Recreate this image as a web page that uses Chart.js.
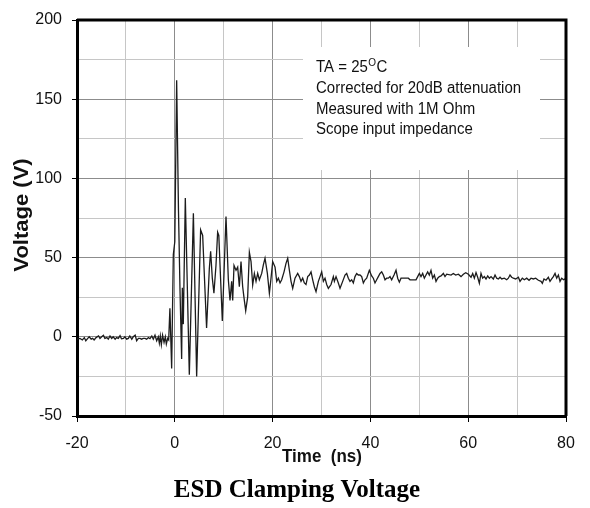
<!DOCTYPE html>
<html>
<head>
<meta charset="utf-8">
<title>ESD Clamping Voltage</title>
<script src="https://cdn.jsdelivr.net/npm/chart.js@4.4.1/dist/chart.umd.min.js"></script>
<style>
  html, body { margin: 0; padding: 0; background: #fff; }
  canvas { display: block; }
</style>
</head>
<body>
<canvas id="esd" width="590" height="508"></canvas>
<script>
const preTriggerTime = [
  -20, -19.4, -18.9, -18.5, -18.2, -17.8, -17.5, -17.1,
  -16.8, -16.5, -16.1, -15.6, -15.3, -14.95, -14.6, -14.3,
  -13.9, -13.6, -13.25, -12.9, -12.6, -12.2, -11.9, -11.55,
  -11.2, -10.9, -10.5, -10.2, -9.85, -9.5, -9.2, -8.8,
  -8.5, -8.1, -7.8, -7.45, -7.1, -6.8, -6.45, -6.1,
  -5.75, -5.4, -5.07, -4.7, -4.4, -4.05, -3.7, -3.37,
  -3.16, -2.96, -2.75, -2.5, -2.2, -1.94, -1.73, -1.46,
  -1.25,
];
const preTriggerVolts = [
  -1.5, -1, -2, -0.5, -2.5, -1, 0, -1.5,
  -1, -2, -0.5, 0.5, -1, 0, 1, -1,
  -0.5, -1.5, 0.5, -1, 0, -1.5, -0.5, -1,
  0.7, -1.3, -1, 0, -1.5, -1, 0.5, -1.5,
  0, 1, -2.5, -1, -1, -1.5, -1, -1,
  -1.5, -0.5, -1.2, 0.5, -1.5, 1, -2.5, 0,
  -4, 0.5, -5, 1, -3.5, 0, -4.5, -1,
  -2,
];

const ringTime = [
  -1.0, -0.64, -0.3, 0.0, 0.38, 0.75, 1.06, 1.4,
  1.54, 1.74, 2.15, 2.97, 3.8, 4.47, 5.28, 5.7,
  6.5, 7.06, 7.33, 7.67, 8.0, 8.42, 8.76, 9.0,
  9.72, 10.47, 10.95, 11.29, 11.63, 11.84, 12.11, 12.52,
  12.86, 13.2, 13.54, 13.88, 14.22, 14.5, 14.9, 15.25,
  15.59, 15.93, 16.27, 16.61, 16.95, 17.29, 17.77, 18.11,
  18.45, 18.93, 19.34, 19.68, 20.02, 20.5, 20.84, 21.18,
  21.52, 21.86, 22.34, 22.74, 23.09, 23.43, 23.77, 24.11,
  24.58, 25.13, 25.47, 25.81, 26.15, 26.49, 26.83, 27.18,
  27.52, 27.86, 28.2, 28.54, 28.88, 29.36, 29.7, 30.04,
  30.38, 30.72, 31.06, 31.4, 31.95, 32.42,
];
const ringVolts = [
  18, -20, 52, 60, 162, 80, 30, -14,
  31, 8, 87.6, -24, 78, -25, 67.5, 64,
  5.5, 43, 54, 37, 27.5, 45, 66, 64,
  10, 76, 36, 23, 35, 23, 45, 42,
  44, 31.6, 47.5, 31.6, 23, 16.5, 25, 53.4,
  47.5, 32.7, 40, 35, 40, 36, 40, 45.4,
  49.6, 40, 27.5, 37, 47.5, 44, 35, 37,
  34, 36, 41, 46.4, 49.6, 42, 35, 30.6,
  37, 40, 38, 35, 37, 34, 33, 38,
  39, 41, 36, 31.6, 28.5, 35, 38, 41,
  35, 37, 33, 30.6, 33, 38,
];

const settleTime = [
  32.63, 32.97, 33.44, 33.79, 34.33, 34.81, 35.15, 35.49,
  35.83, 36.17, 36.51, 36.85, 37.19, 37.53, 37.87, 38.22,
  38.56, 38.9, 39.24, 39.78, 40.26, 40.6, 40.94, 41.28,
  41.62, 41.97, 42.31, 42.65, 42.99, 43.33, 43.67, 44.01,
  44.35, 44.83, 45.24, 45.58, 45.92, 46.26, 47.76, 48.1,
  49.33, 49.67, 50.01, 50.35, 50.69, 51.03, 51.37, 51.71,
  52.05, 52.39, 52.74, 53.08, 53.42, 53.76, 54.1, 54.44,
  54.92, 55.26, 55.6, 56.49, 56.96, 57.44, 57.99, 58.53,
  59.01, 59.49, 60.03, 60.58, 60.92, 61.26, 61.6, 61.94,
  62.28, 62.62, 62.96, 63.3, 63.64, 63.99, 64.33, 64.67,
  65.14, 65.49, 65.83, 66.17, 66.51, 66.85, 67.39, 67.87,
  68.21, 68.55, 68.89, 69.23, 69.71, 70.26, 70.6, 71.07,
  71.48, 71.96, 72.44, 72.85, 73.32, 73.8, 74.35, 74.89,
  75.16, 75.5, 75.91, 76.39, 76.73, 77.07, 77.41, 77.76,
  78.1, 78.44, 78.78, 79.12, 79.5, 80,
];
const settleVolts = [
  35, 38, 34, 30.6, 35, 39, 40, 37,
  35, 36, 34, 38, 40, 39, 39, 38,
  34, 36, 37, 42, 38.4, 37, 34, 36,
  38, 40, 41, 39, 36, 37, 37, 38,
  36, 39, 42, 37, 34.5, 37, 37, 36,
  36, 38, 40, 38, 40, 37, 39, 41,
  39, 42, 37, 39, 35, 37, 38, 38.4,
  40, 38, 39.5, 39, 40, 39, 39.5, 38,
  39.5, 40.5, 39.5, 37.6, 40, 37, 40.5, 37.6,
  33.8, 40, 37, 38, 36.5, 38.4, 37, 38,
  36.5, 39, 37, 36.5, 37.6, 36.5, 37, 36,
  37, 39, 37.6, 37, 36.5, 37.6, 35, 37,
  36, 37, 35.7, 37, 36.5, 37, 35.7, 35,
  33.8, 36.5, 35.7, 37.6, 35, 36.5, 38, 40,
  37, 39, 35, 37, 36, 37,
];

const noteLines = ['Corrected for 20dB attenuation', 'Measured with 1M Ohm', 'Scope input impedance'];

const timeNs = [...preTriggerTime, ...ringTime, ...settleTime];
const voltage = [...preTriggerVolts, ...ringVolts, ...settleVolts];

const SANS = "'Liberation Sans', Arial, sans-serif";
const SERIF = "'Liberation Serif', 'Times New Roman', serif";

// white note box, axis titles, frame
const decorations = {
  id: 'decorations',
  beforeDatasetsDraw(chart) {
    const { ctx } = chart;
    ctx.save();
    ctx.fillStyle = '#fff';
    ctx.fillRect(303, 47, 237, 123);
    ctx.fillStyle = '#111';
    ctx.textAlign = 'left';
    ctx.textBaseline = 'alphabetic';
    ctx.translate(316, 0);
    ctx.scale(1, 1.15);
    ctx.font = `15px ${SANS}`;
    ctx.fillText('TA = 25', 0, 71.5 / 1.15);
    const w = ctx.measureText('TA = 25').width;
    ctx.font = `10px ${SANS}`;
    ctx.fillText('O', w + 0.5, 66 / 1.15);
    const wo = ctx.measureText('O').width;
    ctx.font = `15px ${SANS}`;
    ctx.fillText('C', w + wo + 1, 71.5 / 1.15);
    const baselines = [93.3, 114.3, 134.3];
    noteLines.forEach((line, i) => {
      ctx.fillText(line, 0, baselines[i] / 1.15);
    });
    ctx.restore();
  },
  afterDraw(chart) {
    const { ctx, chartArea } = chart;
    ctx.save();
    ctx.strokeStyle = '#000';
    ctx.lineWidth = 3;
    ctx.beginPath();
    ctx.moveTo(chartArea.left, chartArea.top);
    ctx.lineTo(chartArea.right, chartArea.top);
    ctx.lineTo(chartArea.right, chartArea.bottom);
    ctx.stroke();

    ctx.fillStyle = '#111';
    // y title
    ctx.save();
    ctx.translate(28, 215);
    ctx.rotate(-Math.PI / 2);
    ctx.scale(1.1, 1);
    ctx.font = `bold 20px ${SANS}`;
    ctx.textAlign = 'center';
    ctx.textBaseline = 'alphabetic';
    ctx.fillText('Voltage (V)', 0, 0);
    ctx.restore();

    // x title, sits over the tick labels like the original
    ctx.save();
    ctx.translate(322, 462);
    ctx.scale(1, 1.1);
    ctx.font = `bold 17px ${SANS}`;
    ctx.textAlign = 'center';
    ctx.fillText('Time  (ns)', 0, 0);
    ctx.restore();

    ctx.font = `bold 25px ${SERIF}`;
    ctx.textAlign = 'center';
    ctx.fillStyle = '#000';
    ctx.fillText('ESD Clamping Voltage', 297, 497);
    ctx.restore();
  },
};

const isMajor = (v, step) => Math.abs(v % step) < 1e-9;

new Chart(document.getElementById('esd'), {
  type: 'line',
  data: {
    datasets: [{
      label: 'Voltage',
      data: timeNs.map((t, i) => ({ x: t, y: voltage[i] })),
      borderColor: '#1c1c1c',
      borderWidth: 1.3,
      pointRadius: 0,
      tension: 0,
      fill: false,
    }],
  },
  options: {
    responsive: false,
    animation: false,
    devicePixelRatio: 1,
    layout: { padding: { left: 0, right: 24, top: 20, bottom: 0 } },
    plugins: {
      legend: { display: false },
      tooltip: { enabled: false },
      title: { display: false },
    },
    scales: {
      x: {
        type: 'linear',
        min: -20,
        max: 80,
        ticks: {
          stepSize: 10,
          autoSkip: false,
          maxRotation: 0,
          padding: 12,
          color: '#111',
          font: { family: SANS, size: 16 },
          callback: (v) => (isMajor(v, 20) ? v : ''),
        },
        grid: {
          color: (c) => (isMajor(c.tick.value, 20) ? '#8c8c8c' : '#c6c6c6'),
          tickColor: (c) => (isMajor(c.tick.value, 20) ? '#000' : 'rgba(0,0,0,0)'),
          tickLength: 6,
          lineWidth: 1,
        },
        border: { color: '#000', width: 3 },
        afterFit: (s) => { s.height = 92; },
      },
      y: {
        min: -50,
        max: 200,
        ticks: {
          stepSize: 25,
          autoSkip: false,
          padding: 10,
          color: '#111',
          font: { family: SANS, size: 16 },
          callback: (v) => (isMajor(v, 50) ? v : ''),
        },
        grid: {
          color: (c) => (isMajor(c.tick.value, 50) ? '#8c8c8c' : '#c6c6c6'),
          tickColor: (c) => (isMajor(c.tick.value, 50) ? '#000' : 'rgba(0,0,0,0)'),
          tickLength: 5,
          lineWidth: 1,
        },
        border: { color: '#000', width: 3 },
        afterFit: (s) => { s.width = 77; },
      },
    },
  },
  plugins: [decorations],
});
</script>
</body>
</html>
